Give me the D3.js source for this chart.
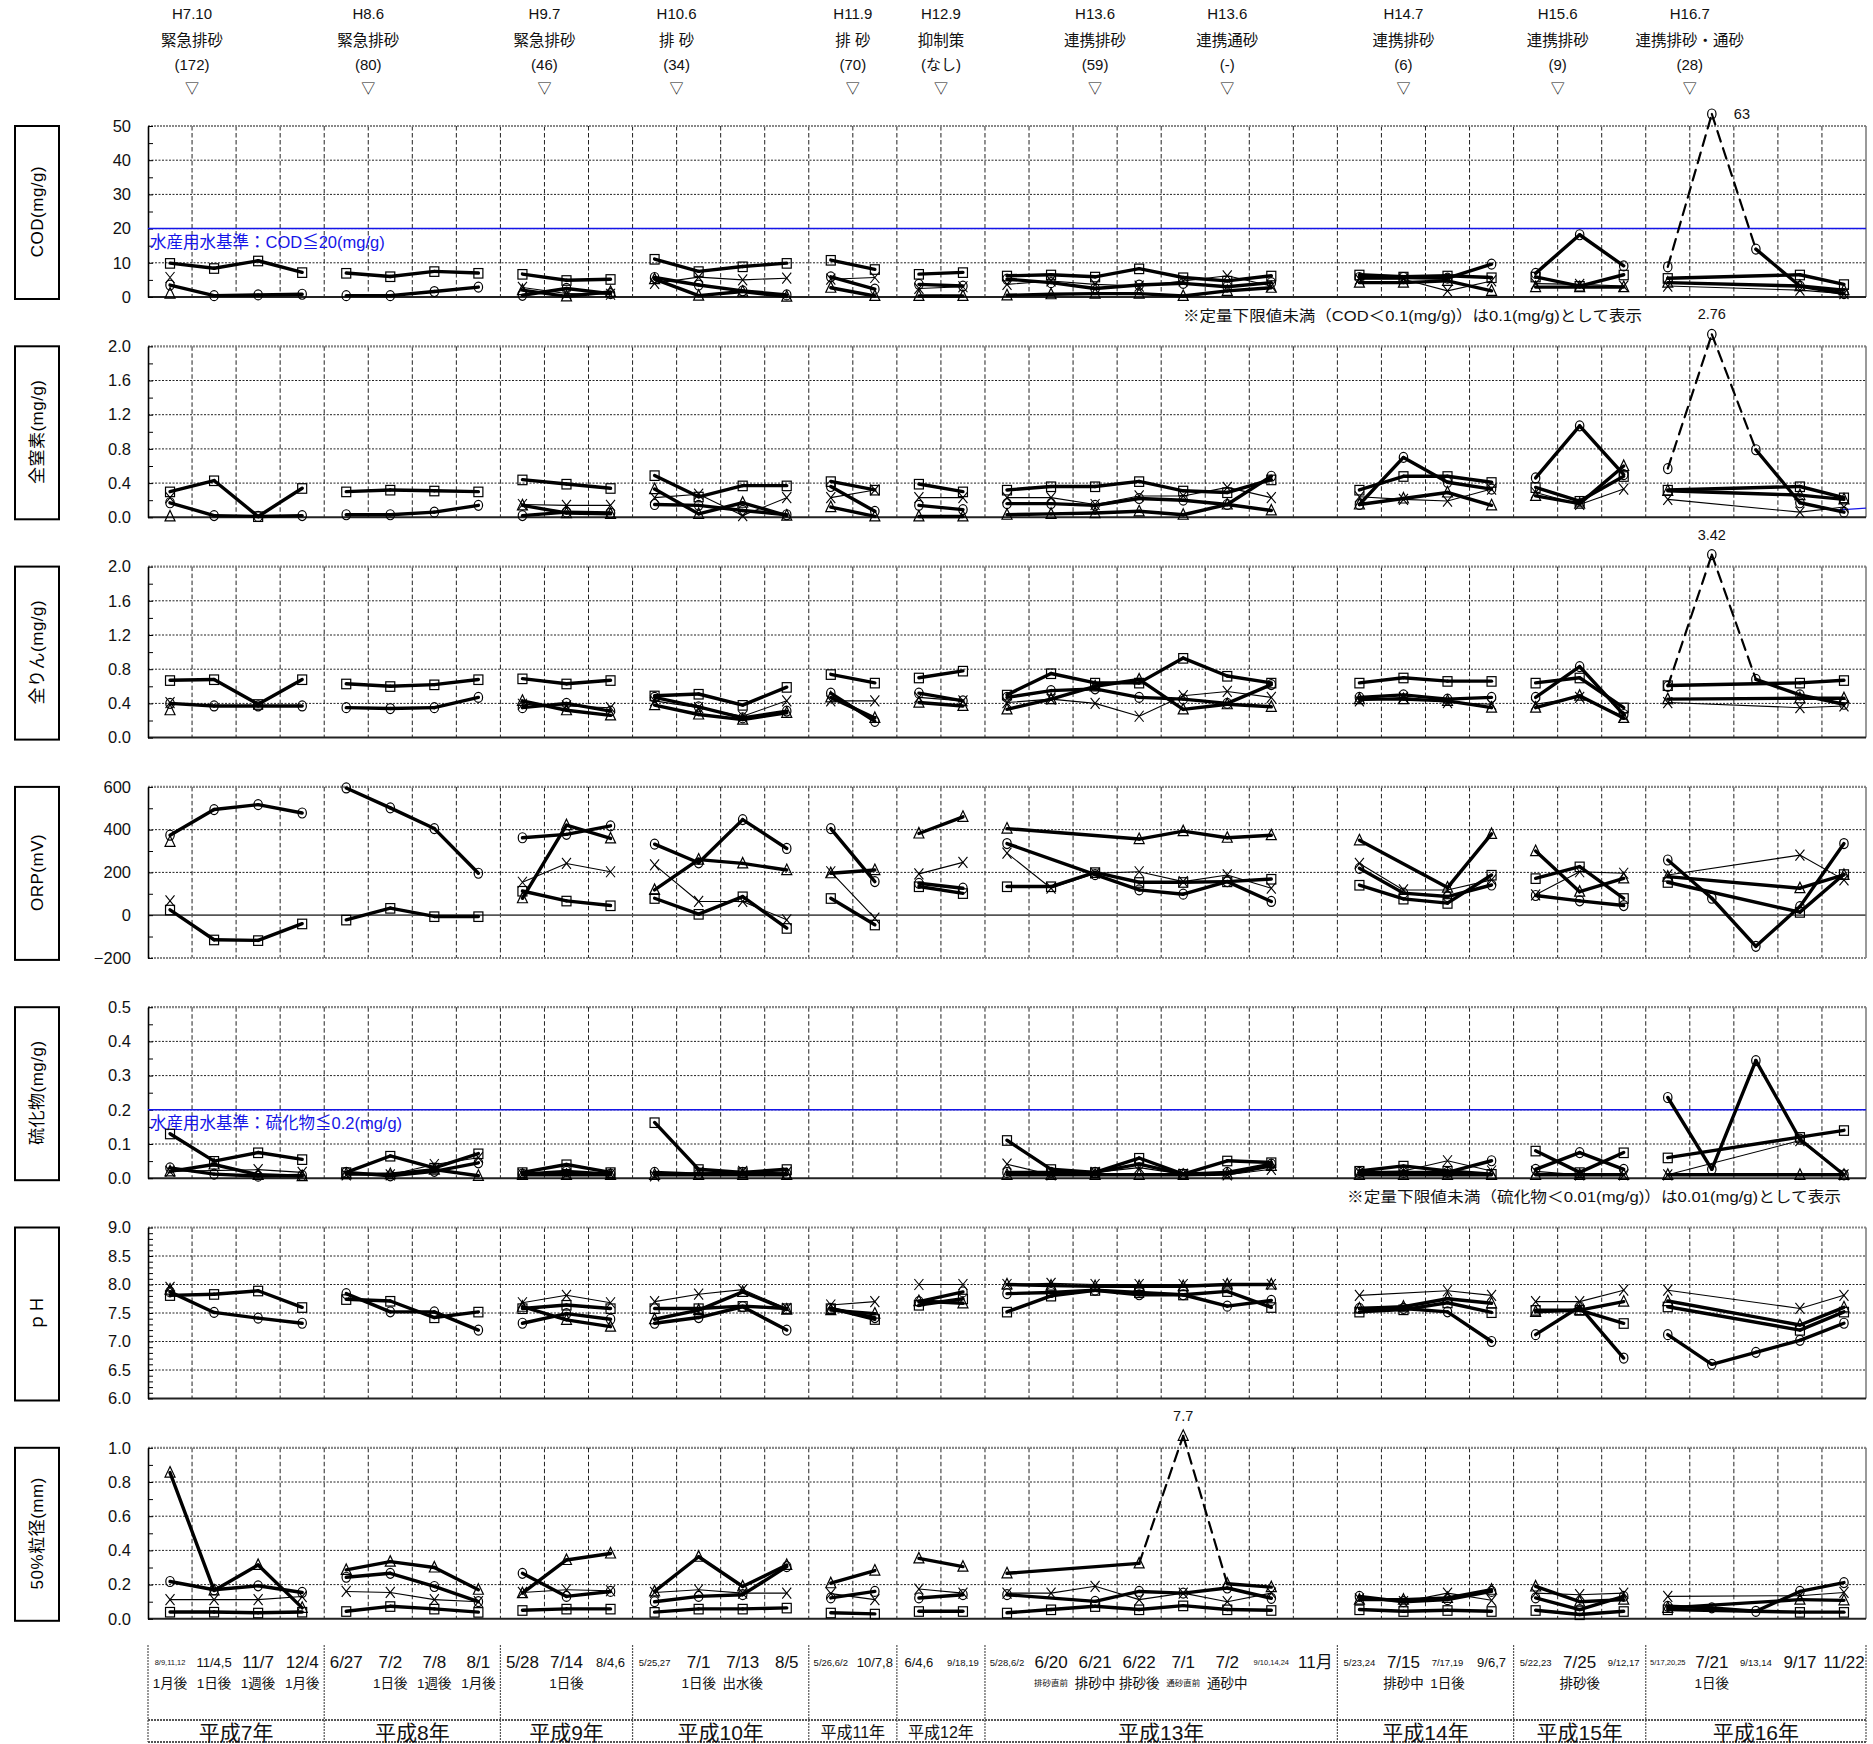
<!DOCTYPE html>
<html>
<head>
<meta charset="utf-8">
<script src="https://cdn.jsdelivr.net/npm/d3@7"></script>
<style>
  body { margin: 0; background: #fff; }
  text { font-family: "Liberation Sans", Arial, "Noto Sans CJK JP", sans-serif; }
</style>
</head>
<body>
<svg id="chart"></svg>
<script>
/********** the Data **********/
const _ = null;

// sampling dates (one column each)
const dates = ["8/9,11,12", "11/4,5", "11/7", "12/4",
  "6/27", "7/2", "7/8", "8/1",
  "5/28", "7/14", "8/4,6",
  "5/25,27", "7/1", "7/13", "8/5",
  "5/26,6/2", "10/7,8",
  "6/4,6", "9/18,19",
  "5/28,6/2", "6/20", "6/21", "6/22", "7/1", "7/2", "9/10,14,24", "11月",
  "5/23,24", "7/15", "7/17,19", "9/6,7",
  "5/22,23", "7/25", "9/12,17",
  "5/17,20,25", "7/21", "9/13,14", "9/17", "11/22"];

const subNotes = ["1月後", "1日後", "1週後", "1月後",
  "", "1日後", "1週後", "1月後",
  "", "1日後", "",
  "", "1日後", "出水後", "",
  "", "",
  "", "",
  "", "排砂直前", "排砂中", "排砂後", "通砂直前", "通砂中", "", "",
  "", "排砂中", "1日後", "",
  "", "排砂後", "",
  "", "1日後", "", "", ""];

const years = ["平成7年", "平成8年", "平成9年", "平成10年", "平成11年", "平成12年",
  "平成13年", "平成14年", "平成15年", "平成16年"];
const yearCols = [4, 4, 3, 4, 2, 2, 8, 4, 3, 5];

// flushing events along the top (position in column units)
const eventAt = [1, 5, 9, 12, 16, 18, 21.5, 24.5, 28.5, 32, 35];
const eventDate = ["H7.10", "H8.6", "H9.7", "H10.6", "H11.9", "H12.9", "H13.6", "H13.6", "H14.7", "H15.6", "H16.7"];
const eventType = ["緊急排砂", "緊急排砂", "緊急排砂", "排 砂", "排 砂", "抑制策", "連携排砂", "連携通砂", "連携排砂", "連携排砂", "連携排砂・通砂"];
const eventCount = ["(172)", "(80)", "(46)", "(34)", "(70)", "(なし)", "(59)", "(-)", "(6)", "(9)", "(28)"];

// tick labels of each panel
const codTicks = [0, 10, 20, 30, 40, 50];
const tnTicks = [0, 0.4, 0.8, 1.2, 1.6, 2.0];
const tpTicks = [0, 0.4, 0.8, 1.2, 1.6, 2.0];
const orpTicks = [-200, 0, 200, 400, 600];
const sulTicks = [0, 0.1, 0.2, 0.3, 0.4, 0.5];
const phTicks = [6.0, 6.5, 7.0, 7.5, 8.0, 8.5, 9.0];
const d50Ticks = [0, 0.2, 0.4, 0.6, 0.8, 1.0];

// series: O = circle, S = square, T = triangle, X = cross
const codO = [3.5,0.4,0.6,0.8, 0.4,0.4,1.6,2.9, 0.5,2.5,1.0, 5.7,3.5,1.8,0.6, 5.9,2.3, 3.7,3.2, 5.2,4.2,2.5,3.5,4.0,3.0,4.2,_, 5.7,5.7,5.5,9.6, 6.9,18.2,9.1, 8.8,63,14.0,3.2,1.0];
const codS = [9.9,8.4,10.6,7.2, 7.0,6.0,7.5,7.0, 6.7,4.9,5.2, 11.1,7.5,8.9,9.9, 10.8,8.1, 6.7,7.2, 6.2,6.5,5.9,8.3,5.7,4.7,6.2,_, 6.5,5.9,6.2,5.7, 5.9,3.2,6.5, 5.5,_,_,6.5,3.7];
const codT = [1.0,_,_,_, _,_,_,_, 2.0,0.2,1.5, 5.2,0.4,1.6,0.1, 2.7,0.3, 0.3,0.3, 0.5,0.8,1.0,1.0,0.3,1.8,2.7,_, 4.2,4.2,4.7,1.8, 2.9,2.9,2.9, 4.2,_,_,3.2,2.0];
const codX = [5.7,_,_,_, _,_,_,_, 2.8,1.0,0.8, 4.0,5.8,5.0,5.5, 5.2,5.7, 2.5,3.0, 3.7,4.7,3.7,3.2,4.7,6.2,3.2,_, 5.2,5.2,1.8,4.7, 3.9,3.7,3.2, 3.2,_,_,2.0,1.0];

const tnO = [0.17,0.02,0.01,0.02, 0.03,0.03,0.06,0.14, 0.02,0.06,0.05, 0.15,0.14,0.08,0.03, 0.36,0.07, 0.14,0.09, 0.16,0.16,0.14,0.22,0.20,0.15,0.48,_, 0.15,0.70,0.41,0.33, 0.46,1.07,0.50, 0.57,2.76,0.79,0.17,0.06];
const tnS = [0.30,0.43,0.01,0.34, 0.30,0.32,0.31,0.30, 0.44,0.39,0.34, 0.49,0.24,0.37,0.37, 0.42,0.32, 0.39,0.30, 0.32,0.36,0.36,0.42,0.31,0.29,0.44,_, 0.32,0.48,0.48,0.41, 0.35,0.19,0.48, 0.32,_,_,0.36,0.23];
const tnT = [0.01,_,_,_, _,_,_,_, 0.14,0.05,0.04, 0.33,0.04,0.17,0.02, 0.12,0.01, 0.01,0.01, 0.03,0.04,0.05,0.07,0.03,0.15,0.08,_, 0.15,0.22,0.29,0.14, 0.25,0.16,0.60, 0.31,_,_,0.26,0.21];
const tnX = [0.23,_,_,_, _,_,_,_, 0.15,0.14,0.14, 0.23,0.27,0.02,0.23, 0.23,0.32, 0.23,0.23, 0.23,0.23,0.15,0.25,0.25,0.35,0.23,_, 0.24,0.21,0.19,0.33, 0.29,0.15,0.33, 0.21,_,_,0.06,0.12];

const tpO = [0.40,0.37,0.37,0.37, 0.35,0.34,0.35,0.47, 0.35,0.40,0.31, 0.47,0.36,0.23,0.31, 0.52,0.19, 0.52,0.43, 0.47,0.55,0.57,0.47,0.45,0.40,0.62,_, 0.47,0.50,0.45,0.47, 0.47,0.83,0.27, 0.60,3.42,0.68,0.50,0.39];
const tpS = [0.67,0.68,0.39,0.68, 0.63,0.60,0.62,0.68, 0.69,0.63,0.67, 0.49,0.51,0.38,0.59, 0.74,0.64, 0.70,0.78, 0.50,0.75,0.64,0.64,0.93,0.72,0.64,_, 0.64,0.70,0.66,0.66, 0.64,0.70,0.35, 0.61,_,_,0.64,0.67];
const tpT = [0.32,_,_,_, _,_,_,_, 0.43,0.32,0.26, 0.38,0.27,0.21,0.29, 0.47,0.23, 0.41,0.37, 0.33,0.45,0.60,0.68,0.33,0.39,0.36,_, 0.45,0.45,0.43,0.35, 0.35,0.49,0.23, 0.45,_,_,0.46,0.46];
const tpX = [0.41,_,_,_, _,_,_,_, 0.39,0.37,0.35, 0.43,0.35,0.25,0.43, 0.43,0.43, 0.47,0.43, 0.41,0.45,0.40,0.25,0.49,0.54,0.47,_, 0.43,0.47,0.41,0.39, 0.39,0.47,0.25, 0.41,_,_,0.35,0.37];

const orpO = [374,494,517,478, 595,502,405,196, 362,378,418, 332,245,447,312, 405,157, 149,126, 335,_,190,118,98,157,64,_, 219,103,87,141, 92,67,45, 258,79,-146,40,335];
const orpS = [25,-115,-118,-40, -22,33,-6,-6, 113,67,45, 79,5,87,-61, 79,-45, 134,102, 134,134,200,154,154,157,169,_, 141,76,56,188, 172,227,79, 154,_,_,14,191];
const orpT = [343,_,_,_, _,_,_,_, 79,421,359, 118,260,242,211, 196,211, 382,460, 405,_,_,356,393,362,374,_, 350,_,129,380, 300,110,172, 180,_,_,126,188];
const orpX = [67,_,_,_, _,_,_,_, 154,242,203, 235,64,64,-22, 203,-14, 193,247, 290,126,196,203,157,188,126,_, 242,118,118,165, 95,203,196, 188,_,_,281,165];

const sulO = [0.03,0.012,0.006,0.008, 0.017,0.007,0.02,0.045, 0.012,0.02,0.012, 0.017,0.012,0.017,0.012, _,_, _,_, 0.017,0.017,0.017,0.041,0.012,0.017,0.041,_, 0.017,0.017,0.017,0.051, 0.026,0.075,0.026, 0.236,0.026,0.344,0.114,0.01];
const sulS = [0.13,0.05,0.075,0.055, 0.017,0.065,0.03,0.072, 0.017,0.04,0.017, 0.163,0.026,0.017,0.026, _,_, _,_, 0.111,0.026,0.017,0.059,0.012,0.051,0.046,_, 0.021,0.036,0.021,0.012, 0.08,0.017,0.075, 0.06,_,_,0.12,0.14];
const sulT = [0.02,0.04,0.01,0.006, 0.012,0.012,0.025,0.007, 0.01,0.01,0.01, 0.01,0.01,0.01,0.01, _,_, _,_, 0.01,0.01,0.01,0.01,0.01,0.012,0.036,_, 0.01,0.01,0.01,0.01, 0.01,0.01,0.01, 0.01,_,_,0.01,0.01];
const sulX = [0.02,_,0.025,0.017, 0.01,0.01,0.04,0.06, 0.012,0.012,0.012, 0.007,0.017,0.02,0.017, _,_, _,_, 0.041,0.01,0.017,0.031,0.012,0.01,0.026,_, 0.017,0.021,0.051,0.021, 0.02,0.01,0.01, 0.01,_,_,0.11,0.01];

const phO = [7.87,7.51,7.41,7.32, 7.84,7.52,7.52,7.20, 7.32,7.49,7.39, 7.32,7.42,7.61,7.20, 7.58,7.42, 7.70,7.87, 7.84,7.86,7.90,7.82,7.82,7.62,7.72,_, 7.58,7.58,7.52,7.00, 7.12,7.61,6.71, 7.12,6.60,6.81,7.02,7.32];
const phS = [7.81,7.83,7.89,7.60, 7.74,7.71,7.42,7.52, 7.58,7.64,7.58, 7.58,7.58,7.62,7.58, 7.58,7.39, 7.64,7.75, 7.52,7.80,7.90,7.86,7.82,7.88,7.60,_, 7.52,7.56,7.68,7.51, 7.55,7.55,7.32, 7.61,_,_,7.20,7.52];
const phT = [7.91,_,_,_, _,_,_,_, 7.61,7.38,7.26, 7.39,7.55,7.87,7.56, 7.55,7.49, 7.71,7.67, 8.00,7.98,7.97,7.97,7.97,8.00,8.00,_, 7.58,7.61,7.75,7.67, 7.52,7.55,7.70, 7.71,_,_,7.29,7.60];
const phX = [7.95,_,_,_, _,_,_,_, 7.68,7.81,7.68, 7.70,7.83,7.91,7.58, 7.64,7.70, 8.00,8.00, 8.00,8.02,8.00,8.00,8.00,8.00,8.00,_, 7.81,_,7.89,7.81, 7.70,7.70,7.90, 7.90,_,_,7.58,7.81];

const d50O = [0.218,0.17,0.193,0.154, 0.243,0.266,0.189,0.10, 0.266,0.131,0.16, 0.10,0.131,0.141,0.305, 0.122,0.16, 0.122,0.141, 0.141,_,0.102,0.16,0.15,0.18,0.12,_, 0.131,0.10,0.112,0.16, 0.122,0.054,0.131, 0.073,0.064,0.044,0.16,0.212];
const d50S = [0.04,0.04,0.035,0.04, 0.044,0.073,0.058,0.039, 0.05,0.058,0.058, 0.039,0.058,0.058,0.064, 0.035,0.029, 0.044,0.044, 0.035,0.054,0.073,0.054,0.077,0.054,0.05,_, 0.054,0.044,0.05,0.044, 0.05,0.025,0.044, 0.054,_,_,0.039,0.039];
const d50T = [0.855,0.166,0.315,0.064, 0.286,0.334,0.30,0.17, 0.15,0.344,0.382, 0.16,0.363,0.189,0.315, 0.208,0.282, 0.353,0.305, 0.266,_,_,0.324,7.7,0.205,0.185,_, 0.112,0.112,0.122,0.17, 0.189,0.10,0.112, 0.064,_,_,0.112,0.108];
const d50X = [0.112,0.112,0.112,0.13, 0.16,0.154,0.112,0.10, 0.154,0.17,0.164, 0.154,0.17,0.15,0.15, 0.147,0.112, 0.174,0.15, 0.15,0.15,0.19,0.112,0.15,0.10,0.15,_, 0.116,0.10,0.15,0.108, 0.15,0.141,0.15, 0.131,_,_,0.135,0.154];

/********** panel options built from the data **********/
const panels = [
  {label: "COD(mg/g)", ticks: codTicks, minor: 5, fmt: d3.format("d"), series: [codO, codS, codT, codX],
   std: 20, stdText: "水産用水基準：COD≦20(mg/g)",
   note: "※定量下限値未満（COD＜0.1(mg/g)）は0.1(mg/g)として表示", noteX: 1183, noteW: 459, peakSide: "right"},
  {label: "全窒素(mg/g)", ticks: tnTicks, minor: 0.2, fmt: d3.format(".1f"), series: [tnO, tnS, tnT, tnX],
   peakSide: "above", tail: 0.085},
  {label: "全りん(mg/g)", ticks: tpTicks, minor: 0.2, fmt: d3.format(".1f"), series: [tpO, tpS, tpT, tpX], peakSide: "above"},
  {label: "ORP(mV)", ticks: orpTicks, minor: 100, fmt: d3.format("d"), series: [orpO, orpS, orpT, orpX], zero: true},
  {label: "硫化物(mg/g)", ticks: sulTicks, minor: 0.05, fmt: d3.format(".1f"), series: [sulO, sulS, sulT, sulX],
   std: 0.2, stdText: "水産用水基準：硫化物≦0.2(mg/g)",
   note: "※定量下限値未満（硫化物＜0.01(mg/g)）は0.01(mg/g)として表示", noteX: 1347, noteW: 494},
  {label: "ｐＨ", ticks: phTicks, minor: 0.1, fmt: d3.format(".1f"), series: [phO, phS, phT, phX]},
  {label: "50%粒径(mm)", ticks: d50Ticks, minor: 0.1, fmt: d3.format(".1f"), series: [d50O, d50S, d50T, d50X], peakSide: "above"}
];

/********** drawChart **********/
const W = 1873, H = 1744;
const plotL = 148, plotR = 1866;
const panelH = 171, panelStep = 220.3, firstTop = 126;

const svg = d3.select("#chart").attr("width", W).attr("height", H);

const xBand = d3.scaleBand().domain(d3.range(dates.length)).range([plotL, plotR]);
const cx = i => xBand(i) + xBand.bandwidth() / 2;
const xEdge = d3.scaleLinear().domain([0, dates.length]).range([plotL, plotR]);

// year groups [start, end)
const groups = [];
yearCols.reduce((s, n) => { groups.push([s, s + n]); return s + n; }, 0);

/***** top event annotations *****/
const ev = svg.append("g").attr("class", "events").attr("text-anchor", "middle")
  .attr("font-size", 15).attr("fill", "#111");
eventAt.forEach((p, i) => {
  const x = xEdge(p);
  ev.append("text").attr("x", x).attr("y", 19).text(eventDate[i]);
  ev.append("text").attr("x", x).attr("y", 46).attr("font-size", 15.5).text(eventType[i]);
  ev.append("text").attr("x", x).attr("y", 70).text(eventCount[i]);
  ev.append("text").attr("x", x).attr("y", 93).attr("font-size", 14).text("▽");
});

/***** markers *****/
function drawMarker(g, shape, x, y) {
  if (shape === 0) {
    g.append("ellipse").attr("cx", x).attr("cy", y).attr("rx", 4.2).attr("ry", 5)
      .attr("fill", "none").attr("stroke", "#000").attr("stroke-width", 1.2);
  } else if (shape === 1) {
    g.append("rect").attr("x", x - 4.5).attr("y", y - 4.5).attr("width", 9).attr("height", 9.5)
      .attr("fill", "none").attr("stroke", "#000").attr("stroke-width", 1.2);
  } else if (shape === 2) {
    g.append("path").attr("d", `M${x},${y - 6}L${x + 5},${y + 4.5}L${x - 5},${y + 4.5}Z`)
      .attr("fill", "none").attr("stroke", "#000").attr("stroke-width", 1.2);
  } else {
    g.append("path").attr("d", `M${x - 4.5},${y - 5.5}L${x + 4.5},${y + 5.5}M${x - 4.5},${y + 5.5}L${x + 4.5},${y - 5.5}`)
      .attr("fill", "none").attr("stroke", "#000").attr("stroke-width", 1.1);
  }
}

panels.forEach((p, k) => {
  const top = firstTop + k * panelStep, bot = top + panelH;
  const yMin = p.ticks[0], yMax = p.ticks[p.ticks.length - 1];
  const y = d3.scaleLinear().domain([yMin, yMax]).range([bot, top]);
  const yPos = v => v > yMax ? top - 12 : y(v);
  const g = svg.append("g").attr("class", "panel");

  // label box
  g.append("rect").attr("x", 15).attr("y", top).attr("width", 44).attr("height", panelH + 2)
    .attr("fill", "none").attr("stroke", "#000").attr("stroke-width", 2);
  g.append("text")
    .attr("transform", `translate(${43},${top + panelH / 2}) rotate(-90)`)
    .attr("text-anchor", "middle").attr("font-size", 17).attr("letter-spacing", 0.5)
    .text(p.label);

  // vertical grid
  g.selectAll(".vgrid").data(d3.range(1, dates.length)).join("line")
    .attr("class", "vgrid")
    .attr("x1", d => xEdge(d)).attr("x2", d => xEdge(d))
    .attr("y1", top).attr("y2", bot)
    .attr("stroke", "#222").attr("stroke-width", 1).attr("stroke-dasharray", "4.5,2.5");

  // horizontal grid
  g.selectAll(".hgrid").data(p.ticks.slice(1, -1)).join("line")
    .attr("class", "hgrid")
    .attr("x1", plotL).attr("x2", plotR)
    .attr("y1", d => y(d)).attr("y2", d => y(d))
    .attr("stroke", d => (p.zero && d === 0) ? "#555" : "#222")
    .attr("stroke-width", d => (p.zero && d === 0) ? 1.6 : 1)
    .attr("stroke-dasharray", d => (p.zero && d === 0) ? null : "2,1.5");

  // frame
  g.append("line").attr("x1", plotL).attr("x2", plotR).attr("y1", top).attr("y2", top)
    .attr("stroke", "#888").attr("stroke-width", 2.2).attr("stroke-dasharray", "2,1");
  g.append("line").attr("x1", plotR).attr("x2", plotR).attr("y1", top).attr("y2", bot)
    .attr("stroke", "#777").attr("stroke-width", 1.5);
  g.append("line").attr("x1", plotL).attr("x2", plotR).attr("y1", bot).attr("y2", bot)
    .attr("stroke", p.zero ? "#888" : "#222").attr("stroke-width", 2)
    .attr("stroke-dasharray", p.zero ? "2,1" : null);

  // y axis with labels
  const yAxis = d3.axisLeft(y).tickValues(p.ticks).tickFormat(p.fmt).tickSize(0).tickPadding(17);
  const ax = g.append("g").attr("transform", `translate(${plotL},0)`).call(yAxis);
  ax.select(".domain").attr("stroke", "#000").attr("stroke-width", 1.6);
  ax.selectAll("text").attr("font-size", 16.5).attr("fill", "#111")
    .attr("font-family", "'Liberation Sans', Arial, sans-serif");

  // minor ticks pointing into the plot
  const minorVals = d3.range(yMin, yMax + p.minor / 2, p.minor);
  const mAxis = d3.axisRight(y).tickValues(minorVals).tickSize(5).tickFormat("");
  const mx = g.append("g").attr("transform", `translate(${plotL},0)`).call(mAxis);
  mx.select(".domain").remove();
  mx.selectAll("line").attr("stroke", "#000");

  // standard line
  if (p.std != null) {
    g.append("line").attr("x1", plotL).attr("x2", plotR).attr("y1", y(p.std)).attr("y2", y(p.std))
      .attr("stroke", "#1515e8").attr("stroke-width", 1.5);
    g.append("text").attr("x", plotL + 2).attr("y", y(p.std) + 19)
      .attr("font-size", 16.5).attr("fill", "#1515e8").text(p.stdText);
  }
  // short blue tail at the right edge
  if (p.tail != null) {
    g.append("line").attr("x1", cx(dates.length - 1) - 8).attr("x2", plotR)
      .attr("y1", y(p.tail)).attr("y2", y(p.tail) - 2)
      .attr("stroke", "#1515e8").attr("stroke-width", 1.3);
  }

  // lines, one run per year group
  p.series.forEach((vals, s) => {
    const thick = s < 3;
    groups.forEach(([a, b]) => {
      const pts = d3.range(a, b).filter(i => vals[i] != null);
      for (let j = 1; j < pts.length; j++) {
        const i0 = pts[j - 1], i1 = pts[j];
        const out = vals[i0] > yMax || vals[i1] > yMax;
        g.append("line")
          .attr("x1", cx(i0)).attr("y1", yPos(vals[i0]))
          .attr("x2", cx(i1)).attr("y2", yPos(vals[i1]))
          .attr("stroke", "#000")
          .attr("stroke-width", out ? 2.2 : (thick ? 3.4 : 1.1))
          .attr("stroke-dasharray", out ? "11,7" : null)
          .attr("stroke-linecap", "round");
      }
    });
  });

  // markers
  p.series.forEach((vals, s) => {
    vals.forEach((v, i) => {
      if (v == null) return;
      drawMarker(g, s, cx(i), yPos(v));
      if (v > yMax) {
        const lab = g.append("text").attr("font-size", 14.5).attr("fill", "#111").text(v);
        if (p.peakSide === "right") {
          lab.attr("x", cx(i) + 22).attr("y", top - 7);
        } else {
          lab.attr("x", cx(i)).attr("y", top - 27).attr("text-anchor", "middle");
        }
      }
    });
  });

  // lower-limit note
  if (p.note) {
    g.append("text").attr("x", p.noteX).attr("y", bot + 24)
      .attr("font-size", 15).attr("fill", "#111")
      .attr("textLength", p.noteW).attr("lengthAdjust", "spacingAndGlyphs")
      .text(p.note);
  }
});

/***** bottom table *****/
const tb = svg.append("g").attr("class", "table");
const tableTop = 1645, rowLine = 1720, tableBot = 1742;

const bounds = [0];
yearCols.reduce((s, n) => { bounds.push(s + n); return s + n; }, 0);
tb.selectAll(".ybound").data(bounds).join("line")
  .attr("x1", d => xEdge(d)).attr("x2", d => xEdge(d))
  .attr("y1", tableTop).attr("y2", tableBot)
  .attr("stroke", "#555").attr("stroke-width", 1.2).attr("stroke-dasharray", "2,1");
[rowLine, tableBot].forEach(yy => {
  tb.append("line").attr("x1", plotL).attr("x2", plotR).attr("y1", yy).attr("y2", yy)
    .attr("stroke", "#555").attr("stroke-width", 2).attr("stroke-dasharray", "2,1");
});

function dateSize(s) {
  if (s.length >= 9) return 7.5;
  if (s.length >= 7) return 9.5;
  if (s.includes(",")) return 13;
  return 17;
}
tb.selectAll(".date").data(dates).join("text")
  .attr("class", "date")
  .attr("x", (d, i) => cx(i)).attr("y", 1662)
  .attr("dominant-baseline", "central").attr("text-anchor", "middle")
  .attr("font-size", d => dateSize(d)).attr("fill", "#111")
  .text(d => d);

tb.selectAll(".sub").data(subNotes).join("text")
  .attr("class", "sub")
  .attr("x", (d, i) => cx(i)).attr("y", 1683)
  .attr("dominant-baseline", "central").attr("text-anchor", "middle")
  .attr("font-size", d => d.length >= 4 ? 8.5 : 13.5).attr("fill", "#111")
  .text(d => d);

tb.selectAll(".year").data(years).join("text")
  .attr("class", "year")
  .attr("x", (d, i) => (xEdge(bounds[i]) + xEdge(bounds[i + 1])) / 2).attr("y", 1732)
  .attr("dominant-baseline", "central").attr("text-anchor", "middle")
  .attr("font-size", (d, i) => yearCols[i] <= 2 ? 16 : 21).attr("fill", "#111")
  .text(d => d);
</script>
</body>
</html>
